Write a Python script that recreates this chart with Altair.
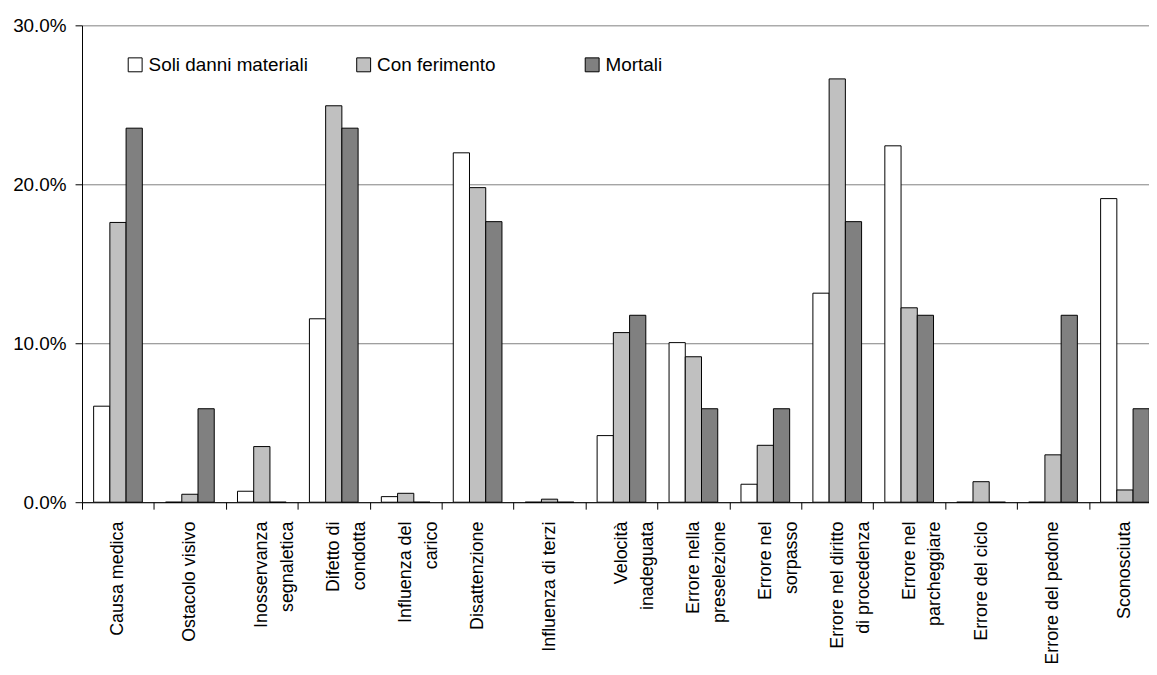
import altair as alt
import pandas as pd

NB = "\u00a0"
categories = [
    "Causa medica",
    "Ostacolo visivo",
    "Inosservanza|segnaletica" + NB * 2,
    "Difetto di|condotta",
    "Influenza del|carico" + NB * 5,
    "Disattenzione",
    "Influenza di terzi",
    "Velocità" + NB * 2 + "|inadeguata",
    "Errore nella" + NB + "|preselezione",
    "Errore nel|sorpasso" + NB,
    "Errore nel diritto|di procedenza" + NB,
    "Errore nel" + NB * 3 + "|parcheggiare",
    "Errore del ciclo",
    "Errore del pedone",
    "Sconosciuta",
]
series = ["Soli danni materiali", "Con ferimento", "Mortali"]

soli = [6.04, 0.0, 0.69, 11.54, 0.35, 21.98, 0.0, 4.19, 10.04, 1.13, 13.15, 22.42, 0.0, 0.0, 19.10]
con_ferimento = [17.60, 0.50, 3.50, 24.94, 0.56, 19.79, 0.19, 10.67, 9.15, 3.58, 26.63, 12.23, 1.29, 2.98, 0.77]
mortali = [23.53, 5.88, 0.0, 23.53, 0.0, 17.65, 0.0, 11.76, 5.88, 5.88, 17.65, 11.76, 0.0, 11.76, 5.88]

colors = ["#FFFFFF", "#C0C0C0", "#808080"]
y_ticks = [0.0, 0.1, 0.2, 0.3]

rows = []
for s, vals in zip(series, [soli, con_ferimento, mortali]):
    for c, v in zip(categories, vals):
        rows.append({"cat": c, "serie": s, "val": v / 100.0})
df = pd.DataFrame(rows)

FONT = "Liberation Sans"

chart = alt.Chart(df).mark_bar(stroke="black", strokeWidth=1).encode(
    x=alt.X(
        "cat:N", sort=categories,
        scale=alt.Scale(paddingInner=0, paddingOuter=0),
        axis=alt.Axis(
            title=None, tickBand="extent", tickSize=7, tickColor="black",
            domainColor="black", labelAngle=270, labelAlign="right",
            labelBaseline="middle", labelPadding=12, labelFontSize=18,
            labelColor="black", labelLineHeight=26, labelLimit=0,
            labelExpr="split(datum.label, '|')", grid=False,
        ),
    ),
    xOffset=alt.XOffset(
        "serie:N", sort=series,
        scale=alt.Scale(paddingInner=0, paddingOuter=0.716),
    ),
    y=alt.Y(
        "val:Q",
        scale=alt.Scale(domain=[0, 0.3]),
        axis=alt.Axis(
            title=None, values=y_ticks, format=".1%", tickSize=7,
            tickColor="black", domainColor="black", labelFontSize=19,
            labelColor="black", labelPadding=9, grid=True,
            gridColor="#808080", gridWidth=1,
        ),
    ),
    color=alt.Color(
        "serie:N", sort=series,
        scale=alt.Scale(domain=series, range=colors),
        legend=alt.Legend(
            title=None, orient="none", legendX=44, legendY=30,
            direction="horizontal", symbolType="square", symbolSize=196,
            symbolStrokeColor="black", symbolStrokeWidth=1,
            labelFontSize=19, labelColor="black", labelOffset=4, labelLimit=0,
            gridAlign="all", columnPadding=46, padding=0,
        ),
    ),
).properties(
    width=1086, height=480,
    autosize=alt.AutoSizeParams(type="none"),
    padding={"left": 74.5, "top": 15.3, "right": -12, "bottom": 160},
).configure(font=FONT).configure_view(stroke=None)

chart.save("out.html", embed_options={"renderer": "svg", "actions": False})
